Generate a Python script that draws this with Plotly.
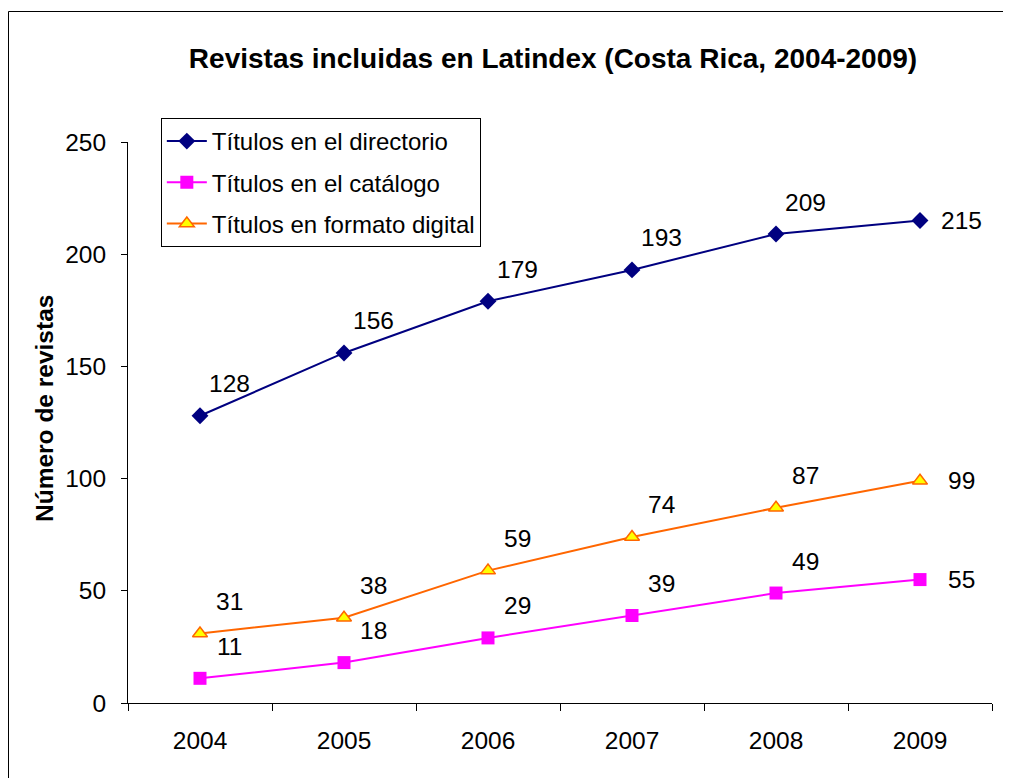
import plotly.graph_objects as go

years = ["2004", "2005", "2006", "2007", "2008", "2009"]
directorio = [128, 156, 179, 193, 209, 215]
catalogo = [11, 18, 29, 39, 49, 55]
digital = [31, 38, 59, 74, 87, 99]
y_ticks = [0, 50, 100, 150, 200, 250]

FONT = "Liberation Sans, Arial, sans-serif"

fig = go.Figure()
fig.add_trace(go.Scatter(
    x=years, y=directorio, name="Títulos en el directorio", mode="lines+markers",
    legendgroup="a",
    line=dict(color="#000080", width=2),
    marker=dict(symbol="diamond", size=13, color="#000080", line=dict(width=0))))
fig.add_trace(go.Scatter(
    x=years, y=catalogo, name="Títulos en el catálogo", mode="lines+markers",
    legendgroup="b",
    line=dict(color="#FF00FF", width=2),
    marker=dict(symbol="square", size=13, color="#FF00FF", line=dict(width=0))))
fig.add_trace(go.Scatter(
    x=years, y=digital, name="Títulos en formato digital", mode="lines+markers",
    legendgroup="c",
    line=dict(color="#FF6600", width=2),
    marker=dict(symbol="triangle-up", size=13, color="#FFFF00", line=dict(color="#FF6600", width=1.5))))

annotations = []
for series in (directorio, catalogo, digital):
    for i, v in enumerate(series):
        last = i == len(series) - 1
        annotations.append(dict(
            x=i, y=v, xref="x", yref="y", text=str(v), showarrow=False,
            xshift=41 if last else 29, yshift=0 if last else 32,
            font=dict(family=FONT, size=24.5, color="black")))

# y-axis title placed as a rotated annotation
annotations.append(dict(
    x=(36 - 120) / 864, y=(695 - 401) / 561, xref="paper", yref="paper",
    text="<b>Número de revistas</b>", textangle=-90, showarrow=False,
    xanchor="center", yanchor="middle",
    font=dict(family=FONT, size=24.5, color="black")))

fig.update_layout(
    width=1011, height=778,
    paper_bgcolor="white", plot_bgcolor="white",
    margin=dict(l=120, r=27, t=134, b=83),
    font=dict(family=FONT, size=24.5, color="black"),
    title=dict(text="<b>Revistas incluidas en Latindex (Costa Rica, 2004-2009)</b>",
               x=545 / 1011, xanchor="center", xref="container",
               y=1 - 50 / 778, yanchor="middle", yref="container",
               font=dict(family=FONT, size=28, color="black")),
    showlegend=True,
    legend=dict(x=0.038, y=1.0428, xanchor="left", yanchor="top",
                bordercolor="black", borderwidth=1, bgcolor="white",
                font=dict(family=FONT, size=24), tracegroupgap=7, itemwidth=40),
    annotations=annotations,
    shapes=[dict(type="rect", xref="paper", yref="paper",
                 x0=(0.5 - 120) / 864, x1=1.2, y0=-0.3, y1=(695 - 3.5) / 561,
                 line=dict(color="black", width=1), layer="below")],
)
fig.update_xaxes(type="category", showline=True, linecolor="black", linewidth=1,
                 ticks="outside", tickson="boundaries", ticklen=7, tickcolor="black",
                 showgrid=False, zeroline=False, tickfont=dict(size=24.5),
                 ticklabelstandoff=16, range=[-0.5, 5.5])
fig.update_yaxes(range=[0, 250], tickvals=y_ticks, showline=True, linecolor="black", linewidth=1,
                 ticks="outside", ticklen=6, tickcolor="black", showgrid=False, zeroline=False,
                 tickfont=dict(size=24.5), ticklabelstandoff=10)

fig.write_html("out.html")
